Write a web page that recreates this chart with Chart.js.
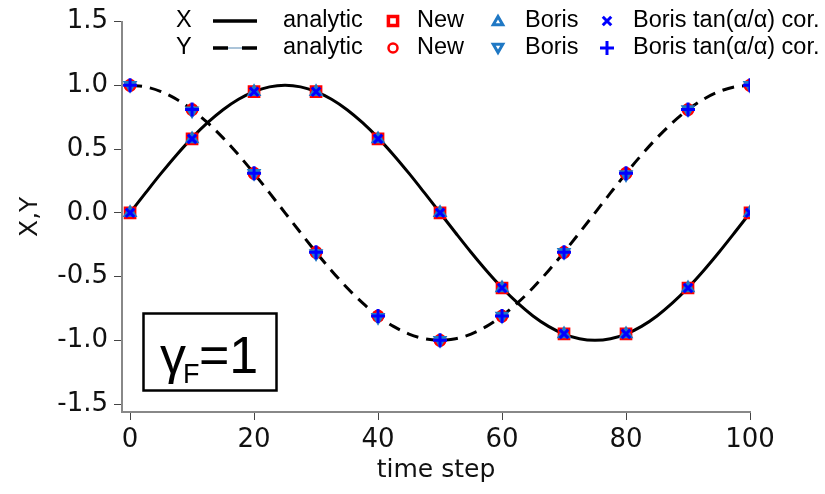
<!DOCTYPE html>
<html>
<head>
<meta charset="utf-8">
<script src="https://cdn.jsdelivr.net/npm/chart.js@4.4.0/dist/chart.umd.min.js"></script>
<style>
    html, body { margin: 0; padding: 0; background: #fff; }
    #wrap { width: 825px; height: 494px; }
</style>
</head>
<body>
<div id="wrap"><canvas id="chart"></canvas></div>
<script>
// sampled time steps for the three pushers
const steps = [0, 10, 20, 30, 40, 50, 60, 70, 80, 90, 100];

const newX   = [0, 0.58, 0.95, 0.95, 0.58, 0, -0.59, -0.95, -0.95, -0.59, 0];
const newY   = [1, 0.81, 0.31, -0.31, -0.81, -1, -0.81, -0.31, 0.31, 0.81, 1];
const borisX = [0, 0.58, 0.95, 0.95, 0.58, 0, -0.59, -0.95, -0.95, -0.59, 0];
const borisY = [1, 0.80, 0.31, -0.32, -0.82, -1, -0.81, -0.31, 0.30, 0.81, 1];
const corX   = [0, 0.58, 0.95, 0.95, 0.58, 0, -0.59, -0.95, -0.95, -0.59, 0];
const corY   = [1, 0.81, 0.31, -0.31, -0.81, -1, -0.81, -0.31, 0.31, 0.81, 1];

// analytic curves, read every 2.5 steps
const curveT = [0, 2.5, 5, 7.5, 10, 12.5, 15, 17.5, 20, 22.5, 25, 27.5, 30, 32.5, 35, 37.5, 40,
    42.5, 45, 47.5, 50, 52.5, 55, 57.5, 60, 62.5, 65, 67.5, 70, 72.5, 75, 77.5, 80, 82.5, 85,
    87.5, 90, 92.5, 95, 97.5, 100];
const analyticX = [0, 0.156, 0.309, 0.454, 0.588, 0.707, 0.809, 0.891, 0.951, 0.988, 1,
    0.988, 0.951, 0.891, 0.809, 0.707, 0.588, 0.454, 0.309, 0.156, 0,
    -0.156, -0.309, -0.454, -0.588, -0.707, -0.809, -0.891, -0.951, -0.988, -1,
    -0.988, -0.951, -0.891, -0.809, -0.707, -0.588, -0.454, -0.309, -0.156, 0];
const analyticY = [1, 0.988, 0.951, 0.891, 0.809, 0.707, 0.588, 0.454, 0.309, 0.156, 0,
    -0.156, -0.309, -0.454, -0.588, -0.707, -0.809, -0.891, -0.951, -0.988, -1,
    -0.988, -0.951, -0.891, -0.809, -0.707, -0.588, -0.454, -0.309, -0.156, 0,
    0.156, 0.309, 0.454, 0.588, 0.707, 0.809, 0.891, 0.951, 0.988, 1];

const xTicks = [0, 20, 40, 60, 80, 100];
const yTicks = [-1.5, -1.0, -0.5, 0.0, 0.5, 1.0, 1.5];

const RED = '#ff0000';
const TEAL = '#1f78c4';
const BLUE = '#0000ff';
const TICK_FONT = { family: 'DejaVu Sans', size: 26 };
const TITLE_FONT = { family: 'DejaVu Sans', size: 25 };

function pts(xs, ys) {
    return xs.map((x, i) => ({ x: x, y: ys[i] }));
}

function marker(label, data, style, color, radius, width, rotation, fill) {
    return {
        label: label,
        data: data,
        showLine: false,
        pointStyle: style,
        pointRadius: radius,
        pointHoverRadius: radius,
        pointRotation: rotation || 0,
        pointBorderWidth: width,
        pointBorderColor: color,
        pointBackgroundColor: fill || 'rgba(0,0,0,0)',
        borderColor: color
    };
}

// legend + gamma label drawn on top of the plot
const overlay = {
    id: 'overlay',
    afterDraw(chart) {
        const ctx = chart.ctx;
        const rows = [21, 48];
        ctx.save();
        ctx.fillStyle = '#000';
        ctx.textBaseline = 'middle';
        ctx.font = '23.5px "Liberation Sans"';
        ctx.fillText('X', 176, rows[0]);
        ctx.fillText('Y', 176, rows[1]);
        ctx.fillText('analytic', 283, rows[0]);
        ctx.fillText('analytic', 283, rows[1]);
        ctx.fillText('New', 417, rows[0]);
        ctx.fillText('New', 417, rows[1]);
        ctx.fillText('Boris', 525, rows[0]);
        ctx.fillText('Boris', 525, rows[1]);
        ctx.fillText('Boris tan(\u03b1/\u03b1) cor.', 633, rows[0]);
        ctx.fillText('Boris tan(\u03b1/\u03b1) cor.', 633, rows[1]);

        // line samples
        ctx.strokeStyle = '#000';
        ctx.lineWidth = 3.5;
        ctx.beginPath();
        ctx.moveTo(213, rows[0]); ctx.lineTo(257, rows[0]);
        ctx.moveTo(213, rows[1]); ctx.lineTo(228, rows[1]);
        ctx.moveTo(242, rows[1]); ctx.lineTo(257, rows[1]);
        ctx.stroke();
        ctx.strokeStyle = '#8fb0cc';
        ctx.lineWidth = 1.5;
        ctx.beginPath();
        ctx.moveTo(228, rows[1]); ctx.lineTo(242, rows[1]);
        ctx.stroke();

        // marker samples
        const draw = (style, color, r, w, rot, x, y) => {
            ctx.strokeStyle = color;
            ctx.fillStyle = 'rgba(0,0,0,0)';
            ctx.lineWidth = w;
            Chart.helpers.drawPoint(ctx, { pointStyle: style, radius: r, rotation: rot, borderWidth: w }, x, y);
        };
        draw('rect', RED, 6.5, 3.5, 0, 393, rows[0]);
        draw('circle', RED, 4.5, 2.5, 0, 393, rows[1]);
        draw('triangle', TEAL, 5.5, 3, 0, 498, rows[0] + 1);
        draw('triangle', TEAL, 5.5, 3, 180, 498, rows[1] - 1);
        draw('crossRot', BLUE, 6, 3, 0, 607, rows[0]);
        draw('cross', BLUE, 7, 3, 0, 607, rows[1]);

        // gamma_F = 1 box
        ctx.strokeStyle = '#000';
        ctx.lineWidth = 2.5;
        ctx.strokeRect(143.5, 313.5, 133, 77);
        ctx.fillStyle = '#000';
        ctx.textBaseline = 'alphabetic';
        ctx.font = '52px "Liberation Sans"';
        ctx.fillText('\u03b3', 160, 373);
        ctx.font = '27px "Liberation Sans"';
        ctx.fillText('F', 183, 383);
        ctx.font = '52px "Liberation Sans"';
        ctx.fillText('=1', 199, 373);
        ctx.restore();
    }
};

new Chart(document.getElementById('chart'), {
    type: 'scatter',
    data: {
        datasets: [
            marker('Boris tan cor. X', pts(steps, corX), 'crossRot', BLUE, 6, 3),
            marker('Boris tan cor. Y', pts(steps, corY), 'cross', BLUE, 7, 3),
            marker('Boris X', pts(steps, borisX), 'triangle', TEAL, 5.5, 3, 0, TEAL),
            marker('Boris Y', pts(steps, borisY), 'triangle', TEAL, 5.5, 3, 180, TEAL),
            marker('New X', pts(steps, newX), 'rect', RED, 6.5, 3.5),
            marker('New Y', pts(steps, newY), 'circle', RED, 5, 3),
            {
                label: 'X analytic',
                data: pts(curveT, analyticX),
                showLine: true,
                pointRadius: 0,
                borderColor: '#000',
                borderWidth: 3,
                cubicInterpolationMode: 'monotone'
            },
            {
                label: 'Y analytic',
                data: pts(curveT, analyticY),
                showLine: true,
                pointRadius: 0,
                borderColor: '#000',
                borderWidth: 3,
                borderDash: [12, 8],
                cubicInterpolationMode: 'monotone'
            }
        ]
    },
    options: {
        responsive: true,
        maintainAspectRatio: false,
        animation: false,
        layout: { padding: { top: 20, right: 75, left: 0, bottom: 0 } },
        plugins: {
            legend: { display: false },
            tooltip: { enabled: false }
        },
        scales: {
            x: {
                type: 'linear',
                min: -1.3,
                max: 100,
                afterBuildTicks: s => { s.ticks = xTicks.map(v => ({ value: v })); },
                afterFit: s => { s.height = 82; },
                grid: { drawOnChartArea: false, drawTicks: true, tickLength: 8, tickColor: '#444', tickWidth: 1 },
                border: { display: true, color: '#888', width: 2 },
                ticks: { font: TICK_FONT, color: '#111', padding: 5, maxRotation: 0, autoSkip: false,
                         callback: v => String(v) },
                title: { display: true, text: 'time step', font: TITLE_FONT,
                         color: '#111', padding: { top: 0, bottom: 9 } }
            },
            y: {
                type: 'linear',
                min: -1.5625,
                max: 1.5,
                afterBuildTicks: s => { s.ticks = yTicks.map(v => ({ value: v })); },
                afterFit: s => { s.width = 122; },
                grid: { drawOnChartArea: false, drawTicks: true, tickLength: 8, tickColor: '#444', tickWidth: 1 },
                border: { display: true, color: '#888', width: 2 },
                ticks: { font: TICK_FONT, color: '#111', padding: 6, autoSkip: false,
                         callback: v => v.toFixed(1) },
                title: { display: true, text: 'X,Y', font: TITLE_FONT,
                         color: '#111', padding: { top: 15, bottom: 0 } }
            }
        }
    },
    plugins: [overlay]
});
</script>
</body>
</html>
